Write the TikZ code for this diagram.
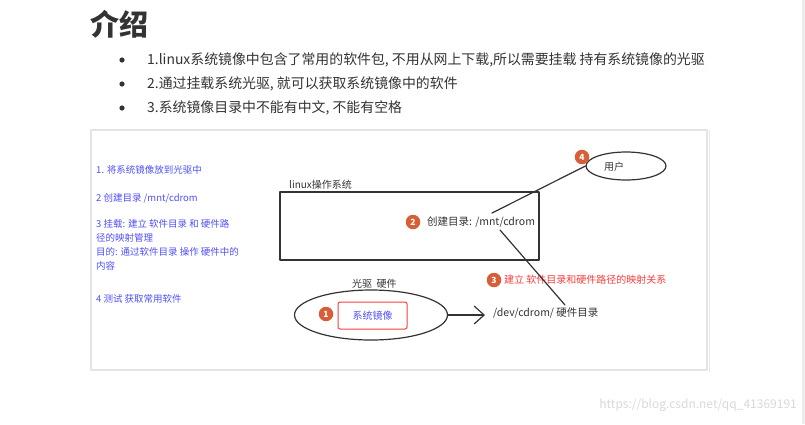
\documentclass[tikz,border=0pt]{standalone}
\usepackage{fontspec}
\setmainfont{Noto Sans CJK SC}
\usetikzlibrary{arrows.meta,positioning,shapes.geometric}
\definecolor{pagetext}{RGB}{51,51,51}
\definecolor{notesblue}{RGB}{80,80,250}
\definecolor{markred}{RGB}{250,60,60}
\definecolor{stepbadge}{RGB}{215,95,55}
\definecolor{framegray}{RGB}{228,228,228}

\tikzset{
 badge/.style={circle,fill=stepbadge,text=white,inner sep=0pt,minimum size=14.5pt,font=\fontsize{8.5}{8.5}\selectfont\bfseries},
 note/.style={anchor=west,text=notesblue,font=\fontsize{9.5}{14}\selectfont,inner sep=0pt},
 lbl/.style={anchor=west,text=pagetext,font=\fontsize{10.5}{12}\selectfont,inner sep=0pt},
 bullettext/.style={anchor=west,text=pagetext,font=\fontsize{13.9}{15}\selectfont,inner sep=0pt}
}

\begin{document}
\begin{tikzpicture}[x=1pt,y=-1pt,>=Stealth,line cap=round,line join=round]
 \useasboundingbox (0,0) rectangle (805,424);
 \fill[white] (0,0) rectangle (805,424);
 \fill[framegray!70] (802,0) rectangle (805,424);
 % heading and bullet list
 \node[anchor=west,text=pagetext,font=\fontsize{29}{29}\selectfont\bfseries,inner sep=0pt] (title) at (90,24) {介绍};
 \foreach \y/\name in {60/one,84/two,108/three}
  \fill[pagetext] (122,\y) circle (2.6pt);
 \node[bullettext] (one) at (147,60) {1.linux系统镜像中包含了常用的软件包, 不用从网上下载,所以需要挂载 持有系统镜像的光驱};
 \node[bullettext] (two) at (147,84) {2.通过挂载系统光驱, 就可以获取系统镜像中的软件};
 \node[bullettext] (three) at (147,108) {3.系统镜像目录中不能有中文, 不能有空格};
 % screenshot frame
 \draw[framegray,line width=2pt] (91,130) rectangle (707,370);
 \draw[framegray!80,line width=1pt] (709.5,130) -- (709.5,372);
 % notes on the left
 \node[note] (n1) at (96,170) {1. 将系统镜像放到光驱中};
 \node[note] (n2) at (96,198) {2 创建目录 /mnt/cdrom};
 \node[note,align=left,anchor=north west] (n3) at (96,219.5)
  {3 挂载: 建立 软件目录 和 硬件路\\径的映射管理\\目的: 通过软件目录 操作 硬件中的\\内容};
 \node[note] (n4) at (96,299) {4 测试 获取常用软件};
 % operating system box
 \draw[pagetext,line width=1.3pt] (280,192) rectangle (539,260);
 \node[lbl,font=\fontsize{10}{11}\selectfont] (os) at (289,185) {linux操作系统};
 \node[badge] (b2) at (413,222) {2};
 \node[lbl] (mnt) at (427,222) {创建目录: /mnt/cdrom};
 % user
 \node[ellipse,draw=pagetext,line width=1.2pt,minimum width=80pt,minimum height=28pt] (user) at (626,166) {};
 \node[lbl,font=\fontsize{10}{11}\selectfont] (usertext) at (604,167) {用户};
 \node[badge] (b4) at (582,157) {4};
 % drive
 \node[lbl,font=\fontsize{10}{11}\selectfont] (drive) at (352,284) {光驱\ \ 硬件};
 \node[ellipse,draw=pagetext,line width=1.2pt,minimum width=153pt,minimum height=50pt] (cdrom) at (371,315) {};
 \node[badge] (b1) at (326,314) {1};
 \node[draw=markred,line width=1pt,rounded corners=2pt,minimum width=69pt,minimum height=27pt,text=notesblue,font=\fontsize{10}{11}\selectfont] (image) at (372.5,315.5) {系统镜像};
 \node[lbl] (dev) at (493,313) {/dev/cdrom/ 硬件目录};
 \draw[pagetext,line width=1.2pt,arrows={-Straight Barb[length=10pt,width=18pt]}] (cdrom.east) -- (485,315);
 % mapping
 \node[badge] (b3) at (494,280) {3};
 \node[lbl,text=markred,font=\fontsize{10}{11}\selectfont] (map) at (504,280) {建立 软件目录和硬件路径的映射关系};
 \coordinate (mnttop) at (492,213);
 \coordinate (mntbot) at (500,230);
 \coordinate (devtop) at (565,305);
 \draw[pagetext,line width=1.2pt] (mnttop) -- (user.west);
 \draw[pagetext,line width=1.2pt] (mntbot) -- (devtop);
 % watermark
 \node[anchor=east,text=gray!30,font=\fontsize{12}{12}\selectfont,inner sep=0pt] (mark) at (797,405) {https://blog.csdn.net/qq\_41369191};
\end{tikzpicture}
\end{document}
